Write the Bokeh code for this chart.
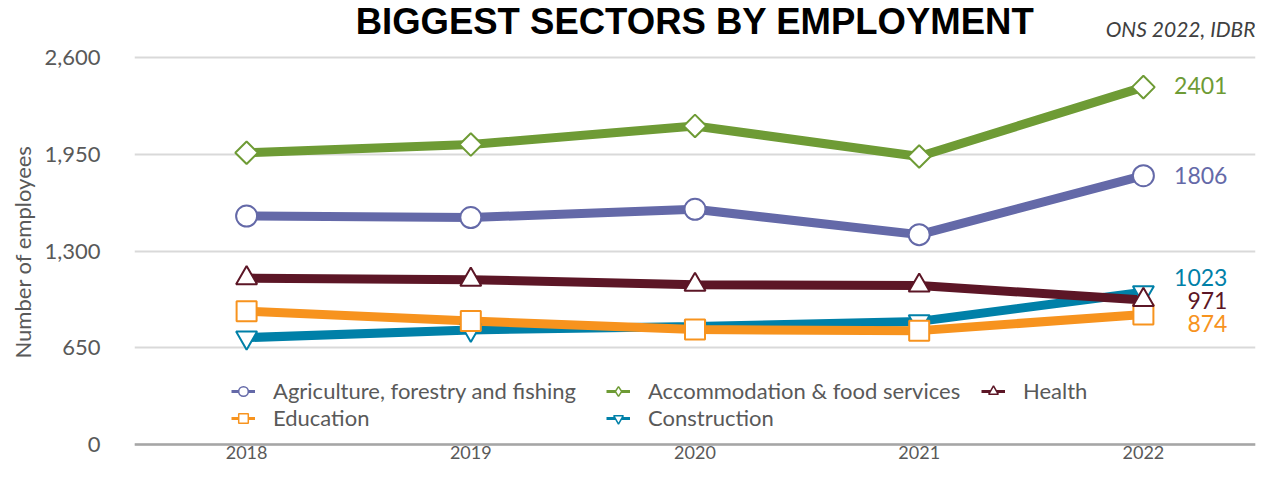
from bokeh.plotting import figure
from bokeh.models import (ColumnDataSource, Range1d, FixedTicker, NumeralTickFormatter,
                          Legend, LegendItem, Label, Span, Title)
from bokeh.core.properties import value
from bokeh.embed import file_html
from bokeh.resources import INLINE

years = [2018, 2019, 2020, 2021, 2022]
series_names = ["Agriculture, forestry and fishing", "Accommodation & food services",
                "Health", "Education", "Construction"]
agriculture = [1535, 1525, 1580, 1410, 1806]
accommodation = [1960, 2015, 2140, 1935, 2401]
health = [1118, 1107, 1073, 1068, 971]
education = [895, 830, 772, 765, 874]
construction = [718, 770, 793, 827, 1023]
y_ticks = [0, 650, 1300, 1950, 2600]
title_text = "BIGGEST SECTORS BY EMPLOYMENT"
source_text = "ONS 2022, IDBR"
y_label = "Number of employees"

colors = {"Agriculture, forestry and fishing": "#6469A8",
          "Accommodation & food services": "#6E9B35",
          "Health": "#5C1626",
          "Education": "#F7931E",
          "Construction": "#0080A8"}
# (plot marker, angle, size, legend marker)
markers = {"Agriculture, forestry and fishing": ("circle", 0.0, 21, "circle"),
           "Accommodation & food services": ("square", 0.785398, 16, "diamond"),
           "Health": ("triangle", 0.0, 21, "triangle"),
           "Education": ("square", 0.0, 20, "square"),
           "Construction": ("inverted_triangle", 0.0, 21, "inverted_triangle")}
data = dict(zip(series_names, [agriculture, accommodation, health, education, construction]))

FONT = "Lato"
GREY = "#595959"

# canvas / frame geometry (pixels)
W, H = 1261, 463
LEFT, RIGHT = 128, 1255
AXIS_Y = 444          # pixel row of value 0
TOP_TICK_Y = 57       # pixel row of the top tick
ppu = (AXIS_Y - TOP_TICK_Y) / y_ticks[-1]
y_lo = -(H - AXIS_Y) / ppu
y_hi = AXIS_Y / ppu

p = figure(width=W, height=H, output_backend="svg", toolbar_location=None, title=None,
           x_range=Range1d(years[0] - 0.5, years[-1] + 0.5), y_range=Range1d(y_lo, y_hi),
           x_axis_location=None,
           min_border_left=LEFT, min_border_right=W - RIGHT, min_border_top=0, min_border_bottom=0)
p.outline_line_color = None
p.background_fill_color = "white"

p.yaxis.ticker = FixedTicker(ticks=y_ticks)
p.yaxis.formatter = NumeralTickFormatter(format="0,0")
p.yaxis.axis_line_color = None
p.yaxis.major_tick_line_color = None
p.yaxis.minor_tick_line_color = None
p.yaxis.major_label_text_font = FONT
p.yaxis.major_label_text_font_size = "22px"
p.yaxis.major_label_text_color = GREY
p.yaxis.major_label_standoff = 28

p.add_layout(Title(text=y_label, align="left", offset=105, standoff=12,
                   text_font=FONT, text_font_size="22px", text_font_style="normal",
                   text_color=GREY), "left")

p.xgrid.grid_line_color = None
p.ygrid.grid_line_color = "#D9D9D9"
p.ygrid.grid_line_width = 2

p.add_layout(Span(location=y_ticks[0], dimension="width", line_color="#A6A6A6", line_width=2.5))
p.text(x=years, y=[y_ticks[0]] * len(years), text=[str(y) for y in years], y_offset=8,
       text_align="center", text_baseline="middle", text_font=value(FONT),
       text_font_size="18px", text_color=GREY)

draw_order = ["Construction", "Education", "Health",
              "Agriculture, forestry and fishing", "Accommodation & food services"]
for name in draw_order:
    src = ColumnDataSource(dict(x=years, y=data[name]))
    p.line("x", "y", source=src, line_color=colors[name], line_width=9)
for name in draw_order:
    src = ColumnDataSource(dict(x=years, y=data[name]))
    m, ang, sz, _ = markers[name]
    p.scatter("x", "y", source=src, marker=m, angle=ang, size=sz,
              fill_color="white", line_color=colors[name], line_width=2)

# end labels
label_offsets = {"Agriculture, forestry and fishing": 0, "Accommodation & food services": -2,
                 "Health": 1, "Education": 9, "Construction": -15}
lab = ColumnDataSource(dict(
    x=[years[-1]] * len(series_names),
    y=[data[n][-1] for n in series_names],
    t=[str(data[n][-1]) for n in series_names],
    c=[colors[n] for n in series_names],
    yo=[label_offsets[n] for n in series_names]))
p.text("x", "y", text="t", source=lab, text_color="c", y_offset="yo", x_offset=84,
       text_align="right", text_baseline="middle", text_font=value(FONT),
       text_font_size="23px")

# legend: hidden renderers carrying the legend styling
items = []
for name in series_names:
    src = ColumnDataSource(dict(x=years, y=data[name]))
    r1 = p.line("x", "y", source=src, line_color=colors[name], line_width=3, visible=False)
    lm = markers[name][3]
    r2 = p.scatter("x", "y", source=src, marker=lm,
                   fill_color="white", line_color=colors[name], line_width=1.5, visible=False)
    items.append(LegendItem(label=name, renderers=[r1, r2]))
legend = Legend(items=items, location=(97, H - 431), orientation="horizontal", ncols=3,
                glyph_width=24, glyph_height=26, label_standoff=18, label_width=333,
                spacing=0, padding=0, margin=0, border_line_color=None,
                background_fill_alpha=0, label_text_font=FONT,
                label_text_font_size="22px", label_text_color=GREY, label_height=26,
                label_text_baseline="middle")
p.add_layout(legend, "center")

p.add_layout(Label(x=sum(years) / len(years), y=y_ticks[-1], text=title_text, text_align="center",
                   text_baseline="top", y_offset=TOP_TICK_Y, text_font="Liberation Sans",
                   text_font_style="bold", text_font_size="36.5px", text_color="black"))
p.add_layout(Label(x=years[-1] + 0.5, y=y_ticks[-1], text=source_text, text_align="right",
                   text_baseline="middle", x_offset=0, y_offset=29, text_font=FONT,
                   text_font_style="italic", text_font_size="21px", text_color="#404040"))

open("out.html", "w").write(file_html(p, INLINE))
